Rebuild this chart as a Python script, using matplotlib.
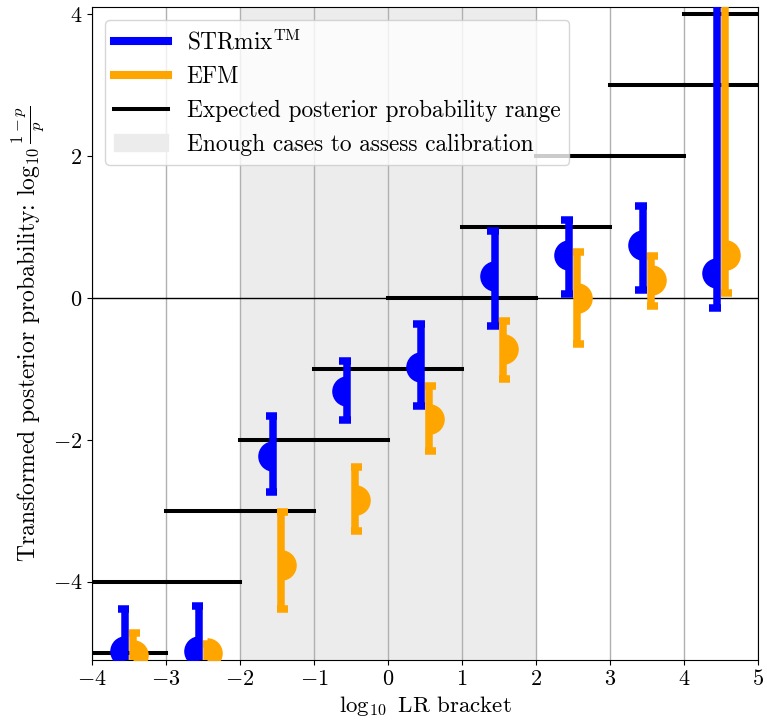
import matplotlib
matplotlib.use("Agg")
import matplotlib.pyplot as plt
from matplotlib.lines import Line2D
from matplotlib.patches import Patch
import numpy as np

plt.rcParams['font.family'] = ['cmr10', 'DejaVu Serif']
plt.rcParams['mathtext.fontset'] = 'cm'
plt.rcParams['axes.formatter.use_mathtext'] = True
plt.rcParams['font.size'] = 16

### data ###

# left edge of each log10 LR bracket
brackets = [-4, -3, -2, -1, 0, 1, 2, 3, 4]

strmix_mid = [-4.97, -4.97, -2.23, -1.31, -0.97, 0.31, 0.61, 0.75, 0.35]
strmix_lo = [-5.6, -5.6, -2.74, -1.72, -1.52, -0.39, 0.06, 0.12, -0.14]
strmix_hi = [-4.38, -4.34, -1.66, -0.89, -0.36, 0.95, 1.10, 1.30, 4.5]

efm_mid = [-5.03, -5.0, -3.77, -2.85, -1.71, -0.72, 0.0, 0.25, 0.60]
efm_lo = [-5.6, -5.3, -4.39, -3.29, -2.16, -1.14, -0.65, -0.11, 0.07]
efm_hi = [-4.72, -4.88, -3.02, -2.38, -1.24, -0.33, 0.65, 0.59, 4.5]

calib_range = (-2, 2)

### plot ###

fig = plt.figure(figsize=(7.67, 7.25), dpi=100)
ax = fig.add_axes([0.12, 0.09, 0.868, 0.90])

ax.axvspan(calib_range[0], calib_range[1], color='#ececec', zorder=0, lw=0)
ax.set_axisbelow(True)
ax.grid(axis='x', color='#b0b0b0', lw=1)
ax.axhline(0, color='black', lw=1, zorder=1)

# expected range: two lines spanning each bracket
for k in brackets:
    ax.hlines([k - 1, k], k, k + 1, colors='black', lw=2.9,
              capstyle='projecting', zorder=2)

bw = 5.4       # bar width in points (~0.1 data units)
half = 0.05    # half bar width, data units
capext = 0.055 # how far the cap sticks out sideways

def draw_series(mid, lo, hi, shift, color, side):
    xs = np.array(brackets) + shift
    ax.vlines(xs, lo, hi, colors=color, lw=bw, capstyle='butt', zorder=3)
    if side == 'left':
        x0, x1 = xs - half - capext, xs + half
    else:
        x0, x1 = xs - half, xs + half + capext
    for i in range(len(xs)):
        ax.hlines([lo[i], hi[i]], x0[i], x1[i], colors=color, lw=bw,
                  capstyle='butt', zorder=3)
    ax.plot(xs, mid, ls='none', marker='o', ms=22, fillstyle=side,
            markerfacecoloralt='none', markeredgewidth=0, color=color,
            zorder=4)

draw_series(strmix_mid, strmix_lo, strmix_hi, 0.45, 'blue', 'left')
draw_series(efm_mid, efm_lo, efm_hi, 0.55, 'orange', 'right')

ax.set_xlim(-4, 5)
ax.set_ylim(-5.1, 4.1)
ax.set_xticks(range(-4, 6))
ax.set_yticks([-4, -2, 0, 2, 4])
ax.tick_params(labelsize=16)
ax.set_xlabel(r'$\log_{10}$ LR bracket', fontsize=16.5, labelpad=3)
ax.set_ylabel(r'Transformed posterior probability: $\log_{10}\frac{1-p}{p}$',
              fontsize=17, labelpad=4)

handles = [
    Line2D([], [], color='blue', lw=5.8),
    Line2D([], [], color='orange', lw=5.8),
    Line2D([], [], color='black', lw=2.9),
    Patch(color='#ececec'),
]
labels = [r'STRmix$^{\rm TM}$', 'EFM', 'Expected posterior probability range',
          'Enough cases to assess calibration']
ax.legend(handles, labels, loc='upper left', fontsize=16.8, handlelength=2.3,
          borderaxespad=0.55)

fig.savefig('out.png', dpi=100)
